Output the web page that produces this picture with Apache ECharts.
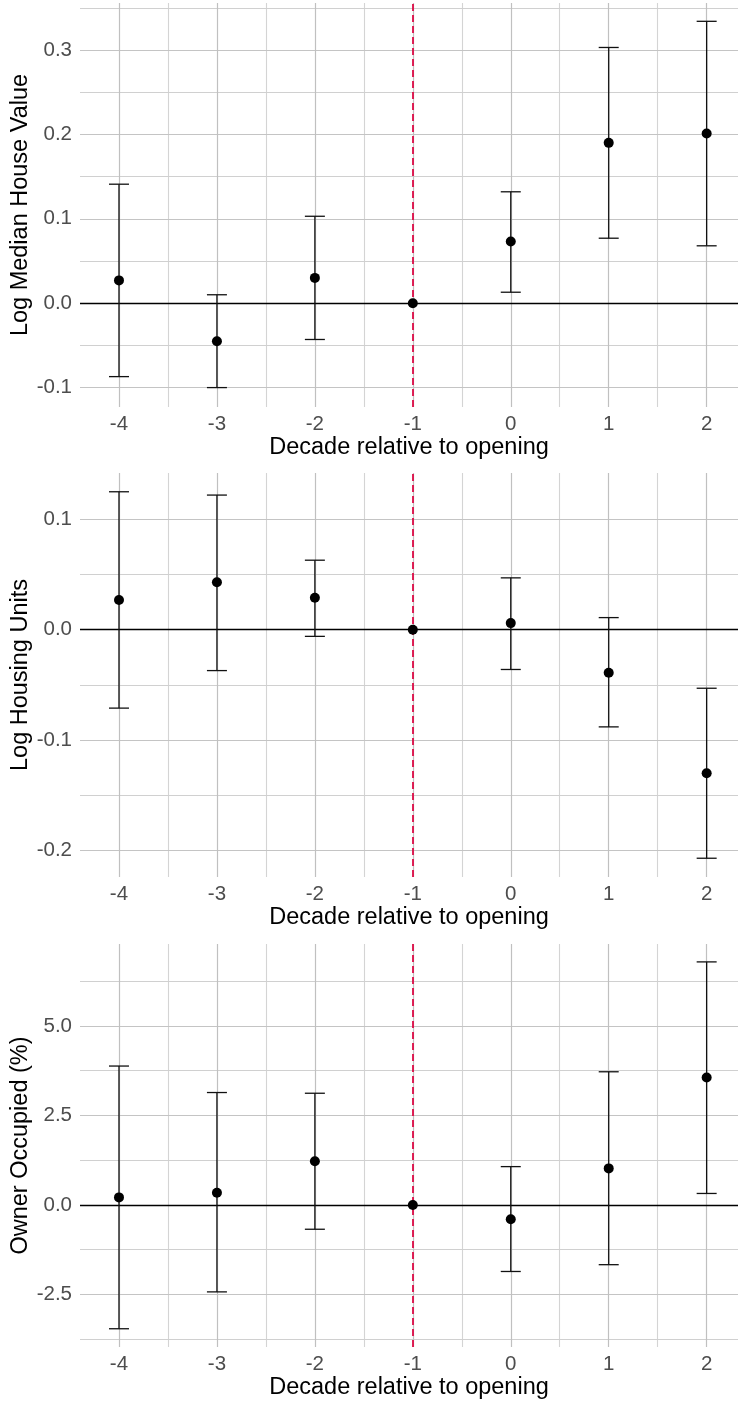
<!DOCTYPE html>
<html>
<head>
<meta charset="utf-8">
<script src="https://cdn.jsdelivr.net/npm/echarts@6/dist/echarts.min.js"></script>
<style>
  html, body { margin: 0; padding: 0; background: #fff; }
  #main { width: 738px; height: 1403px; }
</style>
</head>
<body>
<div id="main"></div>
<script>
// decades relative to opening (x)
var decades = [-4, -3, -2, -1, 0, 1, 2];
var xTicks = [-4, -3, -2, -1, 0, 1, 2];
var xMinor = [-3.5, -2.5, -1.5, -0.5, 0.5, 1.5];

// panel 1: log median house value
var houseEst = [0.027, -0.045, 0.030, 0, 0.073, 0.190, 0.201];
var houseLo  = [-0.087, -0.100, -0.043, 0, 0.013, 0.077, 0.068];
var houseHi  = [0.141, 0.010, 0.103, 0, 0.132, 0.303, 0.334];
var houseTicks = [-0.1, 0.0, 0.1, 0.2, 0.3];
var houseMinor = [-0.05, 0.05, 0.15, 0.25, 0.35];

// panel 2: log housing units
var unitsEst = [0.027, 0.043, 0.029, 0, 0.006, -0.039, -0.130];
var unitsLo  = [-0.071, -0.037, -0.006, 0, -0.036, -0.088, -0.207];
var unitsHi  = [0.125, 0.122, 0.063, 0, 0.047, 0.011, -0.053];
var unitsTicks = [-0.2, -0.1, 0.0, 0.1];
var unitsMinor = [-0.15, -0.05, 0.05];

// panel 3: owner occupied (%)
var ownerEst = [0.21, 0.34, 1.22, 0, -0.40, 1.02, 3.56];
var ownerLo  = [-3.46, -2.43, -0.68, 0, -1.86, -1.67, 0.32];
var ownerHi  = [3.88, 3.14, 3.12, 0, 1.07, 3.72, 6.79];
var ownerTicks = [-2.5, 0.0, 2.5, 5.0];
var ownerMinor = [-3.75, -1.25, 1.25, 3.75, 6.25];

var openingDecade = -1;

var FONT = "'Liberation Sans', Arial, sans-serif";
var myChart = echarts.init(document.getElementById('main'), null, { renderer: 'canvas' });

var panels = [
    { top: 3, height: 404, min: -0.123, max: 0.3557, ticks: houseTicks, minor: houseMinor,
      name: 'Log Median House Value', est: houseEst, lo: houseLo, hi: houseHi },
    { top: 473, height: 404, min: -0.224, max: 0.142, ticks: unitsTicks, minor: unitsMinor,
      name: 'Log Housing Units', est: unitsEst, lo: unitsLo, hi: unitsHi },
    { top: 944, height: 403, min: -3.97, max: 7.29, ticks: ownerTicks, minor: ownerMinor,
      name: 'Owner Occupied (%)', est: ownerEst, lo: ownerLo, hi: ownerHi }
];

var grids = [], xAxes = [], yAxes = [], series = [];

panels.forEach(function (p, i) {
    grids.push({ left: 80, right: 0, top: p.top, height: p.height, containLabel: false, outerBoundsMode: 'none' });

    xAxes.push({
        type: 'value', gridIndex: i, min: -4.398, max: 2.32,
        name: 'Decade relative to opening', nameLocation: 'middle', nameGap: 27,
        nameTextStyle: { fontFamily: FONT, fontSize: 23.5, color: '#000' },
        axisLine: { show: false }, axisTick: { show: false }, splitLine: { show: false },
        axisLabel: { customValues: xTicks, margin: 7, fontFamily: FONT, fontSize: 20.5, color: '#4d4d4d',
            formatter: function (v) { return String(v); } }
    });

    yAxes.push({
        type: 'value', gridIndex: i, min: p.min, max: p.max,
        name: p.name, nameLocation: 'middle', nameGap: 47, nameRotate: 90, nameMoveOverlap: false,
        nameTextStyle: { fontFamily: FONT, fontSize: 23.5, color: '#000' },
        axisLine: { show: false }, axisTick: { show: false }, splitLine: { show: false },
        axisLabel: { customValues: p.ticks, margin: 8, fontFamily: FONT, fontSize: 20.5, color: '#4d4d4d',
            formatter: function (v) { return v.toFixed(1); } }
    });

    // grid lines
    var gl = [];
    xMinor.forEach(function (v) { gl.push({ xAxis: v, lineStyle: { color: '#d4d4d4', width: 1.1, type: 'solid' } }); });
    p.minor.forEach(function (v) { gl.push({ yAxis: v, lineStyle: { color: '#d0d0d0', width: 1.1, type: 'solid' } }); });
    p.ticks.forEach(function (v) { gl.push({ yAxis: v, lineStyle: { color: '#c4c4c4', width: 1.2, type: 'solid' } }); });
    xTicks.forEach(function (v) { gl.push({ xAxis: v, lineStyle: { color: '#c0c0c0', width: 1.2, type: 'solid' } }); });
    series.push({
        type: 'line', xAxisIndex: i, yAxisIndex: i, data: [], z: 1, silent: true,
        markLine: { z: 1, symbol: 'none', silent: true, animation: false, label: { show: false }, data: gl }
    });

    // zero line and opening line
    series.push({
        type: 'line', xAxisIndex: i, yAxisIndex: i, data: [], z: 2, silent: true,
        markLine: { z: 2, symbol: 'none', silent: true, animation: false, label: { show: false }, data: [
            { yAxis: 0, lineStyle: { color: '#000', width: 1.3, type: 'solid' } },
            { xAxis: openingDecade, lineStyle: { color: '#dc0a45', width: 1.8, type: [7, 4] } }
        ] }
    });

    // error bars
    var ebData = decades.map(function (d, k) { return [d, p.lo[k], p.hi[k]]; });
    series.push({
        type: 'custom', xAxisIndex: i, yAxisIndex: i, z: 3, silent: true, data: ebData,
        renderItem: function (params, api) {
            var lo = api.coord([api.value(0), api.value(1)]);
            var hi = api.coord([api.value(0), api.value(2)]);
            if (Math.abs(hi[1] - lo[1]) < 0.5) return null;
            var half = 10;
            var st = { stroke: '#111', lineWidth: 1.3 };
            return {
                type: 'group',
                children: [
                    { type: 'line', shape: { x1: lo[0], y1: lo[1], x2: hi[0], y2: hi[1] }, style: st },
                    { type: 'line', shape: { x1: hi[0] - half, y1: hi[1], x2: hi[0] + half, y2: hi[1] }, style: st },
                    { type: 'line', shape: { x1: lo[0] - half, y1: lo[1], x2: lo[0] + half, y2: lo[1] }, style: st }
                ]
            };
        }
    });

    // point estimates
    series.push({
        type: 'scatter', xAxisIndex: i, yAxisIndex: i, z: 4, silent: true,
        symbol: 'circle', symbolSize: 10, itemStyle: { color: '#000', opacity: 1 },
        data: decades.map(function (d, k) { return [d, p.est[k]]; })
    });
});

var option = {
    animation: false,
    backgroundColor: '#fff',
    textStyle: { fontFamily: FONT },
    grid: grids,
    xAxis: xAxes,
    yAxis: yAxes,
    series: series
};
myChart.setOption(option);
</script>
</body>
</html>
